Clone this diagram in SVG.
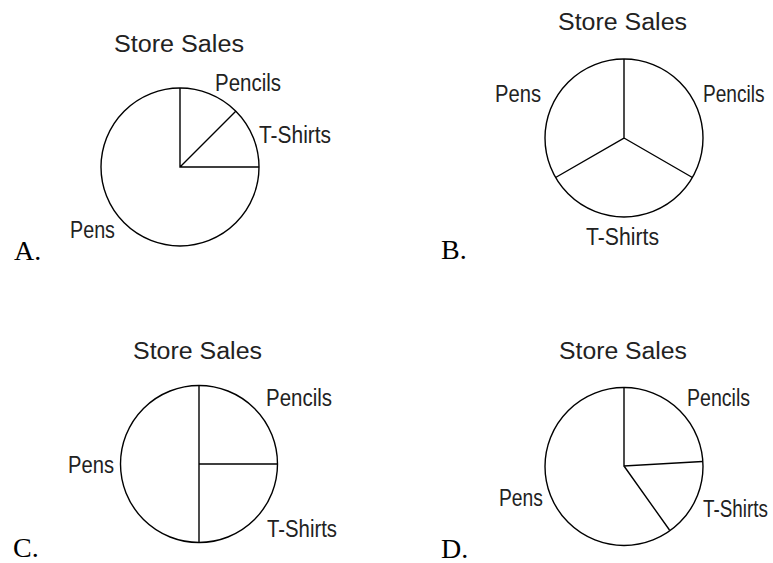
<svg xmlns="http://www.w3.org/2000/svg" width="773" height="563" viewBox="0 0 773 563">
<style>
.pie{fill:none;stroke:#000;stroke-width:1.4}
.lbl{font-family:"Liberation Sans",Arial,sans-serif;font-size:23px;fill:#222}
.opt{font-family:"Liberation Serif","Times New Roman",serif;font-size:28px;fill:#000}
</style>
<rect width="773" height="563" fill="#fff"/>
<g id="chartA">
<text class="lbl" x="114" y="52" textLength="130" lengthAdjust="spacingAndGlyphs">Store Sales</text>
<circle class="pie" cx="180" cy="167" r="79"/>
<path class="pie" d="M180 88 V167 H259 M180 167 L236 111"/>
<text class="lbl" x="215" y="91" textLength="66" lengthAdjust="spacingAndGlyphs">Pencils</text>
<text class="lbl" x="259" y="143" textLength="72" lengthAdjust="spacingAndGlyphs">T-Shirts</text>
<text class="lbl" x="70" y="238" textLength="45" lengthAdjust="spacingAndGlyphs">Pens</text>
<text class="opt" x="14" y="260">A.</text>
</g>
<g id="chartB">
<text class="lbl" x="558" y="30" textLength="129" lengthAdjust="spacingAndGlyphs">Store Sales</text>
<circle class="pie" cx="624" cy="138" r="79"/>
<path class="pie" d="M624 59 V138 L555.6 177.5 M624 138 L692.4 177.5"/>
<text class="lbl" x="495" y="102" textLength="46" lengthAdjust="spacingAndGlyphs">Pens</text>
<text class="lbl" transform="translate(703 102) scale(0.83 1)">Pencils</text>
<text class="lbl" x="586" y="245" textLength="73" lengthAdjust="spacingAndGlyphs">T-Shirts</text>
<text class="opt" x="441" y="259">B.</text>
</g>
<g id="chartC">
<text class="lbl" x="133" y="359" textLength="129" lengthAdjust="spacingAndGlyphs">Store Sales</text>
<circle class="pie" cx="199" cy="464" r="78.5"/>
<path class="pie" d="M199 385 V543 M199 464 H277.5"/>
<text class="lbl" x="266" y="406" textLength="66" lengthAdjust="spacingAndGlyphs">Pencils</text>
<text class="lbl" x="68" y="473" textLength="46" lengthAdjust="spacingAndGlyphs">Pens</text>
<text class="lbl" x="267" y="537" textLength="70" lengthAdjust="spacingAndGlyphs">T-Shirts</text>
<text class="opt" x="13" y="557">C.</text>
</g>
<g id="chartD">
<text class="lbl" x="559" y="359" textLength="128" lengthAdjust="spacingAndGlyphs">Store Sales</text>
<circle class="pie" cx="624" cy="466.5" r="79"/>
<path class="pie" d="M624 387.5 V466 L702.5 461.5 M624 466 L669.5 530"/>
<text class="lbl" x="687" y="406" textLength="63" lengthAdjust="spacingAndGlyphs">Pencils</text>
<text class="lbl" x="499" y="506" textLength="44" lengthAdjust="spacingAndGlyphs">Pens</text>
<text class="lbl" transform="translate(703 517) scale(0.82 1)">T-Shirts</text>
<text class="opt" x="441" y="558">D.</text>
</g>
</svg>
